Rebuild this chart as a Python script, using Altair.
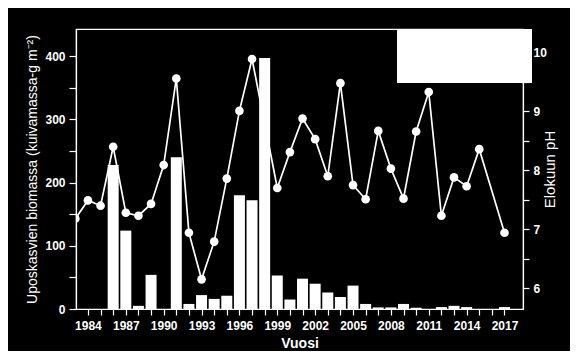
import altair as alt
import pandas as pd

# Biomass bars (left axis)
bar_years = list(range(1984, 2018))
biomass = [0, 0, 228, 124, 5, 54, 0, 240, 8, 22, 16, 21, 180, 172, 397,
           53, 15, 48, 40, 26, 19, 37, 8, 2.5, 2.5, 8, 2, 0, 3, 5, 3, 0, 0, 3]

# August pH (right axis); 2016 missing
ph_years = [1983, 1984, 1985, 1986, 1987, 1988, 1989, 1990, 1991, 1992, 1993, 1994,
            1995, 1996, 1997, 1998, 1999, 2000, 2001, 2002, 2003, 2004, 2005,
            2006, 2007, 2008, 2009, 2010, 2011, 2012, 2013, 2014, 2015, 2017]
ph = [7.18, 7.49, 7.40, 8.40, 7.28, 7.23, 7.43, 8.09, 9.56, 6.94, 6.15, 6.79,
      7.86, 9.01, 9.89, 8.80, 7.70, 8.31, 8.88, 8.53, 7.90, 9.48, 7.75,
      7.51, 8.67, 8.03, 7.52, 8.66, 9.33, 7.23, 7.88, 7.73, 8.36, 6.94]

bars_df = pd.DataFrame({"Vuosi": bar_years, "biomassa": biomass})
ph_df = pd.DataFrame({"Vuosi": ph_years, "pH": ph})

FONT = "Liberation Sans"
xscale = alt.Scale(domain=[1983.45, 2018.07], nice=False, zero=False)

x_axis = alt.Axis(
    values=list(range(1984, 2018)), format="d",
    labelExpr="(datum.value - 1984) % 3 == 0 ? datum.label : ''",
    labelOverlap=False, labelFlush=False, grid=False,
    tickSize=6, labelPadding=5, labelFontSize=12, labelFontWeight="bold",
    title="Vuosi", titleFontSize=14, titleFontWeight="bold", titlePadding=5,
)

bars = alt.Chart(bars_df).mark_bar(color="white", size=11, clip=True).encode(
    x=alt.X("Vuosi:Q", scale=xscale, axis=x_axis),
    y=alt.Y("biomassa:Q",
            scale=alt.Scale(domain=[0, 443], nice=False),
            axis=alt.Axis(
                values=list(range(0, 401, 50)),
                labelExpr="datum.value % 100 == 0 ? datum.label : ''",
                labelOverlap=False, grid=False, tickSize=7, labelPadding=4,
                labelFontSize=12, labelFontWeight="bold",
                title="Uposkasvien biomassa (kuivamassa-g m⁻²)",
                titleFontSize=14, titleFontWeight="normal", titlePadding=5,
            )),
)

ph_y = alt.Y("pH:Q",
             scale=alt.Scale(domain=[5.646, 10.40], nice=False, zero=False),
             axis=alt.Axis(
                 orient="right", format=".0f",
                 values=[6, 6.5, 7, 7.5, 8, 8.5, 9, 9.5, 10],
                 labelExpr="datum.value % 1 == 0 ? datum.label : ''",
                 labelOverlap=False, grid=False, tickSize=6, labelPadding=4,
                 labelFontSize=12, labelFontWeight="bold",
                 title="Elokuun pH", titleFontSize=15, titleFontWeight="normal",
                 titlePadding=11, titleAngle=270,
             ))

line = alt.Chart(ph_df).mark_line(color="white", strokeWidth=1.7, clip=True).encode(
    x=alt.X("Vuosi:Q", scale=xscale, axis=x_axis), y=ph_y)
pts = alt.Chart(ph_df).mark_circle(color="white", opacity=1, size=75, clip=True).encode(
    x=alt.X("Vuosi:Q", scale=xscale, axis=x_axis), y=ph_y)

phlayer = alt.layer(line, pts)

legend_box = alt.Chart(alt.Data(values=[{"a": 1}])).mark_rect(color="white").encode(
    x=alt.value(321), x2=alt.value(456), y=alt.value(0), y2=alt.value(54))

chart = alt.layer(bars, phlayer, legend_box).resolve_scale(y="independent").properties(
    width=447, height=280,
    autosize=alt.AutoSizeParams(type="none"),
    padding={"left": 68, "top": 21, "right": 47, "bottom": 42},
    background="black",
).configure_view(stroke="white", strokeWidth=1.2).configure_axis(
    domainColor="white", tickColor="white", labelColor="white", titleColor="white",
    labelFont=FONT, titleFont=FONT, domainWidth=1.2, tickWidth=1.2,
    labelOverlap=False,
)

chart.save("out.html", embed_options={"renderer": "svg", "actions": False})
